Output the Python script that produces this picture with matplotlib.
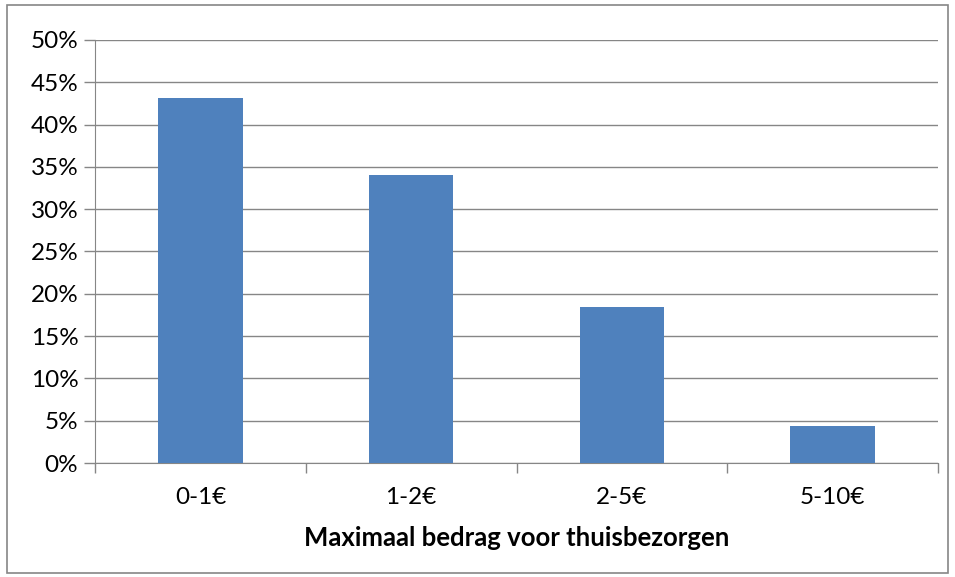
import numpy as np
import matplotlib.pyplot as plt
from matplotlib.patches import Rectangle

categories = ["0-1€", "1-2€", "2-5€", "5-10€"]
values = [43.2, 34.0, 18.4, 4.4]
yticks = [0, 5, 10, 15, 20, 25, 30, 35, 40, 45, 50]

plt.rcParams['font.family'] = ['Lato', 'DejaVu Sans']

fig = plt.figure(figsize=(9.55, 5.77), dpi=100)
ax = fig.add_axes([95/955, 1 - 463/577, (938 - 95)/955, (463 - 40)/577])

x = np.arange(len(categories))
ax.bar(x, values, width=0.4, color='#4F81BD', zorder=3)

ax.set_xlim(-0.5, len(categories) - 0.5)
ax.set_ylim(0, 50)
ax.set_yticks(yticks)
ax.set_yticklabels([f"{v}%" for v in yticks], fontsize=17.5)
ax.yaxis.grid(True, color='#868686', linewidth=1, zorder=0)

# category boundaries as major ticks, labels on minor ticks
ax.set_xticks(np.arange(-0.5, len(categories), 1.0))
ax.set_xticklabels([])
ax.set_xticks(x, minor=True)
ax.set_xticklabels(categories, minor=True, fontsize=17.5)
ax.tick_params(axis='x', which='minor', length=0, pad=17)
ax.tick_params(axis='x', which='major', length=7, color='#868686', width=1)
ax.tick_params(axis='y', length=8, color='#868686', width=1, pad=4)

for s in ['top', 'right']:
    ax.spines[s].set_visible(False)
for s in ['left', 'bottom']:
    ax.spines[s].set_color('#868686')

ax.set_xlabel("Maximaal bedrag voor thuisbezorgen", fontsize=18.5, fontweight='bold', labelpad=13)

fig.patches.append(Rectangle((7/955, 4/577), 941/955, 568/577, transform=fig.transFigure,
                             fill=False, edgecolor='#868686', linewidth=1.2))

fig.savefig("out.png", dpi=100)
